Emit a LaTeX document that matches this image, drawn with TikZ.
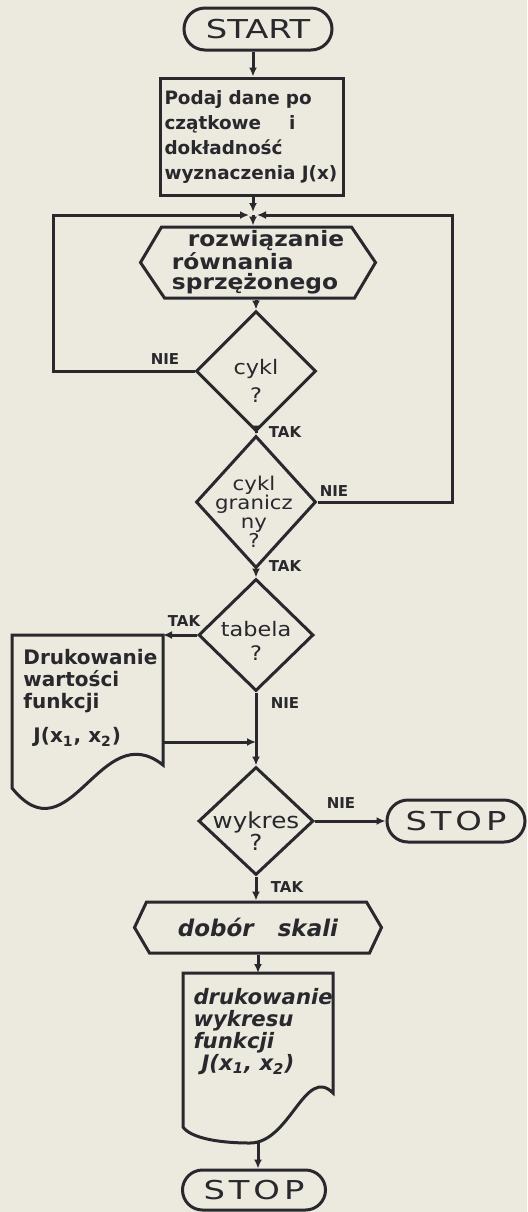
\documentclass[tikz,border=0pt]{standalone}
\usepackage{fontspec}
\setmainfont{DejaVu Sans}
\newfontfamily\hand[FakeStretch=1.12]{DejaVu Sans}
\newfontfamily\handw[FakeStretch=1.1]{DejaVu Sans}
\newfontfamily\handb{DejaVu Sans}
\newfontfamily\termf[FakeStretch=1.3]{DejaVu Sans}
\newfontfamily\stopf[FakeStretch=1.3,LetterSpace=15]{DejaVu Sans}
\usetikzlibrary{shapes.geometric,shapes.misc,arrows.meta}
\definecolor{paper}{RGB}{236,233,222}
\definecolor{ink}{RGB}{40,40,45}
\begin{document}
\begin{tikzpicture}[x=0.5pt,y=-0.5pt,line width=1.5pt,color=ink,
  arr/.style={-{Latex[length=4.5pt,width=4pt]}},
  term/.style={rounded rectangle,draw,minimum height=21pt,inner sep=0pt},
  dia/.style={diamond,draw,inner sep=0pt},
  lab/.style={font=\handb\bfseries\fontsize{7.5}{8}\selectfont,inner sep=0pt},
  dtxt/.style={align=center,inner sep=0pt},
  blank/.style={inner sep=0pt}]
\path[use as bounding box,fill=paper] (0,0) rectangle (527,1212);

% START
\node[term,minimum width=74pt,font=\termf\fontsize{13}{13}\selectfont] (start) at (258,29) {START};

% input box
\node[draw,rectangle,minimum width=91.5pt,minimum height=58.5pt,text width=87pt,
  align=left,inner xsep=2.25pt,inner ysep=0pt,
  font=\handb\bfseries\fontsize{9.2}{12.5}\selectfont] (in) at (251.5,136.5)
  {Podaj dane po\\czątkowe\hspace{14pt}i\\dokładność\\wyznaczenia J(x)};

\coordinate (junc) at (253,215);
\coordinate (lc) at (53,215);
\coordinate (rc) at (452,215);

% preparation hexagon
\node[blank,minimum width=116pt,minimum height=35.5pt,align=left,
  font=\handw\bfseries\fontsize{10.6}{10}\selectfont] (prep) at (258,262.5)
  {\hspace*{8pt}rozwiązanie\\równania\\sprzężonego};
\draw (prep.west) -- ++(21,-35.5) -- ++(190,0) -- (prep.east) -- ++(-21,35.5) -- ++(-190,0) -- cycle;

% diamond cykl
\node[dia,minimum width=60pt,minimum height=60pt] (c1) at (256,371) {};
\node[dtxt,font=\hand\fontsize{10}{14}\selectfont] (c1t) at (256,381) {cykl\\?};

% diamond cykl graniczny
\node[dia,minimum width=60pt,minimum height=66pt] (c2) at (256,502) {};
\node[dtxt,font=\hand\fontsize{9.5}{9.5}\selectfont] (c2t) at (254,512) {cykl\\granicz\\ny\\?};

% diamond tabela
\node[dia,minimum width=57.5pt,minimum height=56pt] (tab) at (256,635) {};
\node[dtxt,font=\hand\fontsize{10}{12}\selectfont] (tabt) at (256,641) {tabela\\?};

% document 1
\draw (12,635) -- (163,635) -- (163,765) .. controls (100,715) and (70,860) .. (12,788) -- cycle;
\node[anchor=north west,align=left,inner sep=0pt,
  font=\handb\bfseries\fontsize{10}{11}\selectfont] (d1) at (22,648)
  {Drukowanie\\wartości\\funkcji\\[6pt]\hspace*{5pt}J(x\textsubscript{1}, x\textsubscript{2})};
\coordinate (d1ne) at (163,635);
\coordinate (d1e) at (163,742);
\coordinate (j2) at (256,742);

% diamond wykres
\node[dia,minimum width=57.5pt,minimum height=54pt] (w) at (256,821) {};
\node[dtxt,font=\hand\fontsize{11}{11}\selectfont] (wt) at (256,831) {wykres\\?};

% STOP right
\node[term,minimum width=69pt,font=\stopf\fontsize{13}{13}\selectfont] (stop1) at (456,821) {STOP};

% dobor skali
\node[blank,minimum width=122pt,minimum height=25.5pt,
  font=\handb\bfseries\itshape\fontsize{11.5}{12}\selectfont] (skala) at (258,927.5)
  {dobór\hspace{12pt}skali};
\draw (skala.west) -- ++(12,-25.5) -- ++(220,0) -- (skala.east) -- ++(-12,25.5) -- ++(-220,0) -- cycle;

% document 2
\draw (183,973) -- (333,973) -- (333,1093) .. controls (305,1065) and (290,1143) .. (250,1143)
  .. controls (215,1143) and (190,1137) .. (183,1127) -- cycle;
\node[anchor=north west,align=left,inner sep=0pt,
  font=\handb\bfseries\itshape\fontsize{10.6}{11}\selectfont] (d2) at (192,987)
  {drukowanie\\wykresu\\funkcji\\\hspace*{4pt}J(x\textsubscript{1}, x\textsubscript{2})};
\coordinate (d2n) at (258,973);
\coordinate (d2b) at (258,1142);

% STOP bottom
\node[term,minimum width=71.5pt,minimum height=20pt,font=\stopf\fontsize{13}{13}\selectfont] (stop2) at (254,1190) {STOP};

% connectors
\draw[arr] (junc |- start.south) -- (junc |- in.north);
\draw[arr,shorten >=1.5pt] (in.south -| junc) -- (junc);
\draw[arr,shorten >=2pt] (c1.west) -| (lc) -- (junc);
\draw[arr,shorten >=2pt] (c2.east) -| (rc) -- (junc);
\draw[arr] (junc) -- (junc |- prep.north);
\draw[arr] (c1 |- prep.south) -- (c1.north);
\draw[arr] (c1.south) -- (c2.north);
\draw[arr] (c2.south) -- (tab.north);
\draw[arr] (tab.west) -- (d1ne);
\draw (tab.south) -- (j2);
\draw[arr] (d1e) -- (j2);
\draw[arr] (j2) -- (w.north);
\draw[arr] (w.east) -- (stop1.west);
\draw[arr] (w.south) -- (w.south |- skala.north);
\draw[arr] (d2n |- skala.south) -- (d2n);
\draw[arr] (d2b) -- (d2b |- stop2.north);

% labels
\node[lab] (l1) at (165,359) {NIE};
\node[lab] (l2) at (285,432) {TAK};
\node[lab] (l3) at (334,491) {NIE};
\node[lab] (l4) at (285,566) {TAK};
\node[lab] (l5) at (184,621) {TAK};
\node[lab] (l6) at (285,703) {NIE};
\node[lab] (l7) at (341,803) {NIE};
\node[lab] (l8) at (287,887) {TAK};
\end{tikzpicture}
\end{document}
